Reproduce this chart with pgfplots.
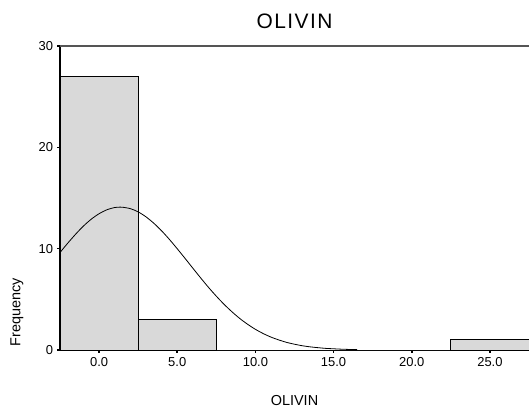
\documentclass[border=0pt]{standalone}
\usepackage{fontspec}
\setmainfont{Liberation Sans}
\newfontfamily\titlefont[LetterSpace=7]{Liberation Sans}
\usepackage{pgfplots}
\pgfplotsset{compat=1.18}

\definecolor{barfill}{RGB}{217,217,217}
\definecolor{frameline}{RGB}{85,85,85}

\begin{document}
\begin{tikzpicture}
\begin{axis}[
  scale only axis,
  width=469bp, height=304bp,
  xmin=-2.5, xmax=27.5,
  ymin=0, ymax=30,
  clip=false,
  axis x line*=bottom,
  axis y line*=left,
  x axis line style={-, black, line width=0.9bp},
  y axis line style={-, black, line width=1.4bp},
  xtick={0,5,10,15,20,25},
  ytick={0,10,20,30},
  xticklabel style={/pgf/number format/.cd, fixed, fixed zerofill, precision=1},
  /pgf/number format/assume math mode=true,
  ticklabel style={font=\fontsize{13}{15}\selectfont},
  tick align=outside,
  major tick length=2.5bp,
  tick style={black, line width=1.6bp},
  xticklabel shift=1.5bp,
  yticklabel shift=1bp,
]
  % histogram of OLIVIN, bin width 5
  \addplot[ybar interval, fill=barfill, draw=black, line width=0.9bp]
    coordinates {(-2.5,27) (2.5,3) (7.5,0) (12.5,0) (17.5,0) (22.5,1) (27.5,1)};

  % fitted normal curve
  \addplot[smooth, black, line width=0.8bp] coordinates {
    (-2.5,9.62) (-2,10.55) (-1.5,11.43) (-1,12.23) (-0.5,12.91) (0,13.45)
    (0.5,13.84) (1,14.06) (1.35,14.10) (1.5,14.09) (2,13.95) (2.5,13.63)
    (3,13.14) (3.5,12.51) (4,11.76) (4.5,10.91) (5,9.99) (5.5,9.04)
    (6,8.07) (6.5,7.11) (7,6.18) (7.5,5.31) (8,4.50) (8.5,3.77)
    (9,3.11) (9.5,2.54) (10,2.04) (10.5,1.62) (11,1.27) (11.5,0.99)
    (12,0.75) (12.5,0.57) (13,0.42) (13.5,0.31) (14,0.23) (14.5,0.16)
    (15,0.12) (15.5,0.08) (16,0.055) (16.5,0.037)
  };

  % top frame line
  \draw[frameline, line width=1.4bp] (rel axis cs:0,1) -- (rel axis cs:1,1);

  % titles
  \node[font=\titlefont\fontsize{21}{24}\selectfont]
    at ([yshift=25bp]rel axis cs:0.5,1) {OLIVIN};
  \node[font=\fontsize{14.5}{17}\selectfont]
    at ([yshift=-51bp]rel axis cs:0.5,0) {OLIVIN};
  \node[font=\fontsize{14.5}{17}\selectfont, rotate=90]
    at ([xshift=-43bp]rel axis cs:0,0.125) {Frequency};
\end{axis}
\pgfresetboundingbox
\path[use as bounding box]
  ([shift={(-60bp,-62bp)}]current axis.south west) rectangle
  ([shift={(0bp,46bp)}]current axis.north east);
\end{tikzpicture}
\end{document}
